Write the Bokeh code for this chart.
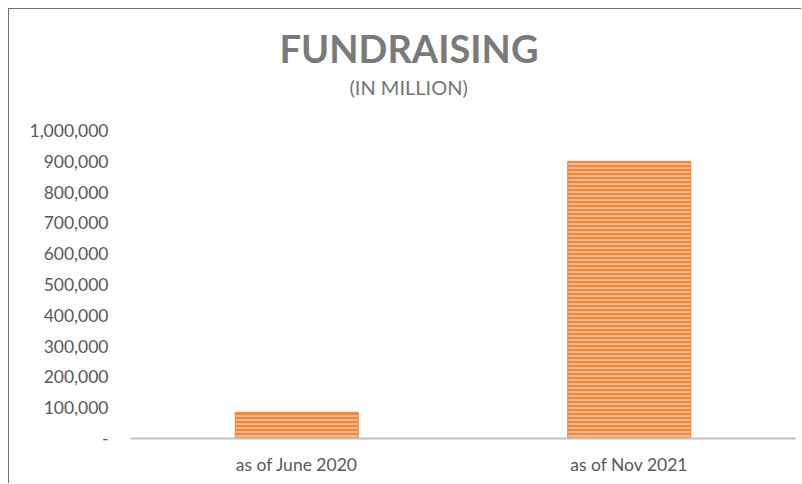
from bokeh.plotting import figure
from bokeh.models import FactorRange, Range1d, FixedTicker, NumeralTickFormatter, Title
from bokeh.embed import file_html
from bokeh.resources import INLINE

categories = ["as of June 2020", "as of Nov 2021"]
values = [85000, 900000]
y_ticks = [0, 100000, 200000, 300000, 400000, 500000, 600000, 700000, 800000, 900000, 1000000]

FONT = "Lato"

p = figure(
    width=793, height=475,
    x_range=FactorRange(*categories, range_padding=0),
    y_range=Range1d(0, 1000000),
    output_backend="svg", toolbar_location=None,
    min_border_left=121, min_border_right=7, min_border_top=121, min_border_bottom=46,
    outline_line_color=None, background_fill_color="white", border_fill_color="white",
)
p.styles = {"margin-left": "8px", "margin-top": "8px",
            "border-left": "1px solid #6e6e6e", "border-top": "1px solid #6e6e6e"}

p.vbar(x=categories, top=values, width=0.37,
       fill_color="#EF863A", line_color="#EF863A", line_width=1,
       hatch_pattern="horizontal_line", hatch_color="#F9D4B6",
       hatch_scale=4, hatch_weight=1.3)

sub = Title(text="(IN MILLION)", align="left", text_font=FONT, text_font_size="20px",
            text_font_style="normal", text_color="#767676", standoff=64, offset=219)
main = Title(text="FUNDRAISING", align="left", text_font=FONT, text_font_size="38px",
             text_font_style="bold", text_color="#7a7a7a", standoff=-60, offset=149)
p.add_layout(sub, "above")
p.add_layout(main, "above")

p.xgrid.grid_line_color = None
p.ygrid.grid_line_color = None

p.yaxis.ticker = FixedTicker(ticks=y_ticks)
p.yaxis.formatter = NumeralTickFormatter(format="0,0")
p.yaxis.major_label_overrides = {0: "-"}
p.yaxis.axis_line_color = None
p.yaxis.major_tick_line_color = None
p.yaxis.minor_tick_line_color = None
p.yaxis.major_label_text_font = FONT
p.yaxis.major_label_text_font_size = "17.5px"
p.yaxis.major_label_text_color = "#595959"
p.yaxis.major_label_standoff = 16

p.xaxis.axis_line_color = "#c0c0c0"
p.xaxis.axis_line_width = 2
p.xaxis.major_tick_line_color = None
p.xaxis.minor_tick_line_color = None
p.xaxis.major_label_text_font = FONT
p.xaxis.major_label_text_font_size = "17.5px"
p.xaxis.major_label_text_color = "#595959"
p.xaxis.major_label_standoff = 9

open("out.html", "w").write(file_html(p, INLINE))
